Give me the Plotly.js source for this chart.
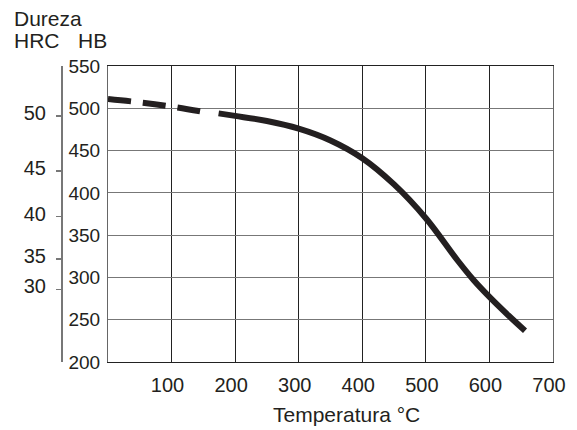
<!DOCTYPE html>
<html>
<head>
<meta charset="utf-8">
<script src="https://cdn.plot.ly/plotly-3.0.1.min.js"></script>
<style>html,body{margin:0;padding:0;background:#fff;}#chart{width:577px;height:430px;}</style>
</head>
<body>
<div id="chart"></div>
<script>
// Temperature (°C) and hardness (HB)
const dashedTemp = [0, 50, 100, 148];
const dashedHB = [511, 507, 502, 496];
const solidTemp = [174, 200, 250, 300, 350, 400, 450, 500, 550, 575, 600, 630, 656];
const solidHB = [494, 491, 485, 476, 462, 441, 410, 370, 320, 297, 277, 255, 237];

const xTicks = [100, 200, 300, 400, 500, 600, 700];
const hbTicks = [200, 250, 300, 350, 400, 450, 500, 550];
// HRC scale positions expressed on the HB scale
const hrcPosHB = [491, 426, 372, 322, 286];
const hrcLabels = ['50', '45', '40', '35', '30'];

const ink = '#231f20';
const fam = 'Liberation Sans, Arial, sans-serif';
const font = {family: fam, size: 21, color: ink};

const traces = [
  {x: dashedTemp, y: dashedHB, type: 'scatter', mode: 'lines',
   line: {color: ink, width: 6, dash: '23px,12px', shape: 'spline', smoothing: 1}, hoverinfo: 'skip'},
  {x: solidTemp, y: solidHB, type: 'scatter', mode: 'lines',
   line: {color: ink, width: 6, shape: 'spline', smoothing: 1}, hoverinfo: 'skip'},
  {x: [null], y: [null], yaxis: 'y2', type: 'scatter', mode: 'lines', hoverinfo: 'skip'}
];

const layout = {
  width: 577, height: 430,
  margin: {l: 61, r: 24, t: 66, b: 68},
  paper_bgcolor: '#fff', plot_bgcolor: '#fff',
  showlegend: false,
  font: font,
  xaxis: {
    domain: [0.0955, 1], range: [0, 700], tickvals: xTicks, ticktext: xTicks.map(String),
    showgrid: true, gridcolor: '#222', gridwidth: 1,
    showline: true, linecolor: '#222', linewidth: 1, mirror: true,
    zeroline: false, ticks: '', ticklabelstandoff: 5, ticklabelshift: -4,
    tickfont: {family: fam, size: 20, color: ink}, fixedrange: true
  },
  yaxis: {
    range: [200, 550], tickvals: hbTicks, ticktext: hbTicks.map(String),
    showgrid: true, gridcolor: '#777', gridwidth: 1,
    showline: true, linecolor: '#666', linewidth: 1, mirror: true,
    zeroline: false, ticks: '', ticklabelstandoff: 3,
    tickfont: {family: fam, size: 19, color: ink}, fixedrange: true
  },
  yaxis2: {
    overlaying: 'y', anchor: 'free', position: 0, side: 'left',
    range: [200, 550], tickvals: hrcPosHB, ticktext: hrcLabels,
    showgrid: false, zeroline: false,
    showline: true, linecolor: '#777', linewidth: 1.5,
    ticks: 'outside', ticklen: 5, tickcolor: '#777', tickwidth: 1.5,
    ticklabelstandoff: 6, ticklabelshift: -3,
    tickfont: {family: fam, size: 20, color: ink}, fixedrange: true
  },
  annotations: [
    {text: 'Dureza', xref: 'paper', yref: 'paper', x: -0.0996, y: 1.1605,
     xanchor: 'left', yanchor: 'middle', showarrow: false, font: font},
    {text: 'HRC', xref: 'paper', yref: 'paper', x: -0.0996, y: 1.0845,
     xanchor: 'left', yanchor: 'middle', showarrow: false, font: font},
    {text: 'HB', xref: 'paper', yref: 'paper', x: (76 - 61) / 492, y: 1.0845,
     xanchor: 'left', yanchor: 'middle', showarrow: false, font: font},
    {text: 'Temperatura °C', xref: 'paper', yref: 'paper', x: 0.5807, y: -0.179,
     xanchor: 'center', yanchor: 'middle', showarrow: false, font: font}
  ]
};

Plotly.newPlot('chart', traces, layout, {staticPlot: true, displayModeBar: false});
</script>
</body>
</html>
